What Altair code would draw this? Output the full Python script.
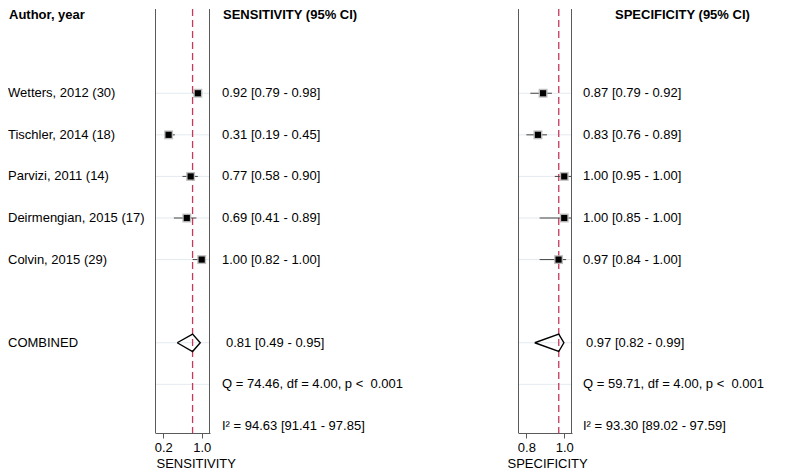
import altair as alt
import pandas as pd

# ---------------- data ----------------
authors = ["Wetters, 2012 (30)", "Tischler, 2014 (18)", "Parvizi, 2011 (14)",
           "Deirmengian, 2015 (17)", "Colvin, 2015 (29)"]
study_rows = [2, 3, 4, 5, 6]
combined_row = 8
q_row = 9
i2_row = 10
header_row = 0.12

# sensitivity (as drawn)
sens_est = [0.92, 0.31, 0.77, 0.69, 1.00]
sens_lo = [0.81, 0.235, 0.60, 0.42, 0.81]
sens_hi = [1.00, 0.44, 0.92, 0.89, 1.07]
sens_comb = [0.49, 0.81, 0.97]  # lo, est, hi of diamond
sens_text = ["0.92 [0.79 - 0.98]", "0.31 [0.19 - 0.45]", "0.77 [0.58 - 0.90]",
             "0.69 [0.41 - 0.89]", "1.00 [0.82 - 1.00]"]
sens_comb_text = "0.81 [0.49 - 0.95]"
sens_q_text = "Q = 74.46, df = 4.00, p < \u00a00.001"
sens_i2_text = "I² = 94.63 [91.41 - 97.85]"

# specificity (as drawn)
spec_est = [0.888, 0.861, 1.00, 1.00, 0.97]
spec_lo = [0.821, 0.80, 0.95, 0.87, 0.87]
spec_hi = [0.935, 0.909, 1.05, 1.05, 1.01]
spec_comb = [0.844, 0.971, 0.998]
spec_text = ["0.87 [0.79 - 0.92]", "0.83 [0.76 - 0.89]", "1.00 [0.95 - 1.00]",
             "1.00 [0.85 - 1.00]", "0.97 [0.84 - 1.00]"]
spec_comb_text = "0.97 [0.82 - 0.99]"
spec_q_text = "Q = 59.71, df = 4.00, p < \u00a00.001"
spec_i2_text = "I² = 93.30 [89.02 - 97.59]"

grid_rows = study_rows + [combined_row, q_row]

# ---------------- layout ----------------
H = 424
FONT = "Liberation Sans"
yscale = alt.Scale(domain=[-0.026, 10.17], reverse=True, nice=False, zero=False)
Y = alt.Y("row:Q", scale=yscale, axis=None)
RED = "#c8385a"
BORDER = "#5a5a5a"


def text_layer(rows, texts, xpx, bold=False):
    df = pd.DataFrame({"row": rows, "label": texts})
    return alt.Chart(df).mark_text(
        align="left", baseline="middle", font=FONT, fontSize=13,
        fontWeight="bold" if bold else "normal", color="black"
    ).encode(x=alt.value(xpx), y=Y, text="label:N")


def forest_panel(est, lo, hi, comb, domain, title, width, tick_vals, title_x):
    xs = alt.Scale(domain=domain, nice=False, zero=False)
    xaxis = alt.Axis(values=tick_vals,
                     format=".1f", grid=False, domainColor=BORDER, tickColor=BORDER,
                     tickSize=5, labelFontSize=13, labelFont=FONT, labelColor="black",
                     labelPadding=3, title=title, titleFont=FONT, titleFontSize=13,
                     titleFontWeight="normal", titleColor="black",
                     titleAlign="left", titleBaseline="top", titleX=title_x, titleY=24)
    grid = alt.Chart(pd.DataFrame({"row": grid_rows})).mark_rule(
        color="#e3eaf0", strokeWidth=1
    ).encode(x=alt.value(0), x2=alt.value(width), y=Y)
    borders = alt.Chart(pd.DataFrame({"b": [0]})).mark_rule(
        color=BORDER, strokeWidth=1
    ).encode(x=alt.value(0.5))
    borders_r = alt.Chart(pd.DataFrame({"b": [0]})).mark_rule(
        color=BORDER, strokeWidth=1
    ).encode(x=alt.value(width - 0.5))
    ref = alt.Chart(pd.DataFrame({"v": [comb[1]]})).mark_rule(
        color=RED, strokeDash=[7, 4], strokeWidth=1.3
    ).encode(x=alt.X("v:Q", scale=xs, axis=xaxis))
    df = pd.DataFrame({"row": study_rows, "est": est, "lo": lo, "hi": hi})
    ci = alt.Chart(df).mark_rule(color="#444444", strokeWidth=1, clip=True).encode(
        x=alt.X("lo:Q", scale=xs), x2="hi:Q", y=Y)
    box = alt.Chart(df).mark_square(size=80, color="#b8b8b8", opacity=0.9).encode(
        x=alt.X("est:Q", scale=xs), y=Y)
    dot = alt.Chart(df).mark_square(size=38, color="black", opacity=1).encode(
        x=alt.X("est:Q", scale=xs), y=Y)
    dh = 0.21
    dia = pd.DataFrame({
        "x": [comb[0], comb[1], comb[2], comb[1], comb[0]],
        "row": [combined_row, combined_row - dh, combined_row, combined_row + dh, combined_row],
        "o": [0, 1, 2, 3, 4],
    })
    diamond = alt.Chart(dia).mark_line(color="black", strokeWidth=1.4).encode(
        x=alt.X("x:Q", scale=xs), y=Y, order="o:O")
    return alt.layer(grid, ref, ci, box, dot, diamond, borders, borders_r).properties(
        width=width, height=H)


author_panel = alt.layer(
    text_layer([header_row], ["Author, year"], 1, bold=True),
    text_layer(study_rows + [combined_row], authors + ["COMBINED"], 0),
).properties(width=147, height=H)

sens_panel = forest_panel(sens_est, sens_lo, sens_hi, sens_comb, [0.027, 1.173],
                          "SENSITIVITY", 55, [0.2, 1.0], 1)

sens_text_panel = alt.layer(
    text_layer([header_row], ["SENSITIVITY (95% CI)"], 13, bold=True),
    text_layer(study_rows, sens_text, 12),
    text_layer([combined_row], [sens_comb_text], 16),
    text_layer([q_row, i2_row], [sens_q_text, sens_i2_text], 12),
).properties(width=308, height=H)

spec_panel = forest_panel(spec_est, spec_lo, spec_hi, spec_comb, [0.7556, 1.041],
                          "SPECIFICITY", 54, [0.8, 1.0], -11)

spec_text_panel = alt.layer(
    text_layer([header_row], ["SPECIFICITY (95% CI)"], 43, bold=True),
    text_layer(study_rows, spec_text, 11),
    text_layer([combined_row], [spec_comb_text], 14),
    text_layer([q_row, i2_row], [spec_q_text, spec_i2_text], 11),
).properties(width=214, height=H)

chart = alt.hconcat(
    author_panel, sens_panel, sens_text_panel, spec_panel, spec_text_panel,
    spacing=0, bounds="flush"
).resolve_scale(x="independent", y="independent").properties(
    padding=0, background="white"
).configure_view(stroke=None)

chart.save("out.html", embed_options={"renderer": "svg", "actions": False})
